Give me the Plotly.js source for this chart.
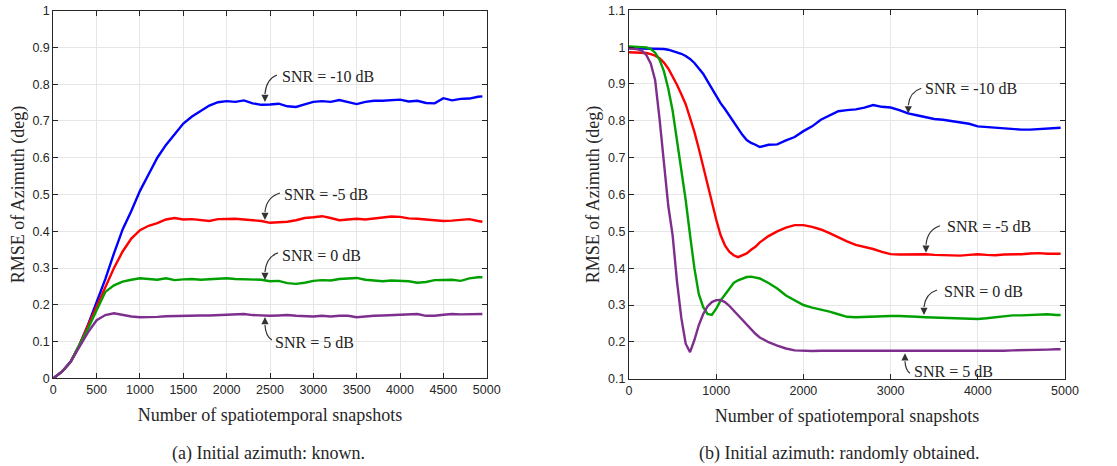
<!DOCTYPE html>
<html>
<head>
<meta charset="utf-8">
<script src="https://cdn.plot.ly/plotly-3.0.1.min.js"></script>
<style>html,body{margin:0;padding:0;background:#fff;}#chart{width:1117px;height:466px;}</style>
</head>
<body>
<div id="chart"></div>
<script>
// ---------- DATA ----------
// (a) Initial azimuth: known
var snapshotsA = [0,100,200,300,400,500,600,700,800,900,1000,1100,1200,1300,1400,1500,1600,1700,1800,1900,2000,2100,2200,2300,2400,2500,2600,2700,2800,2900,3000,3100,3200,3300,3400,3500,3600,3700,3800,3900,4000,4100,4200,4300,4400,4500,4600,4700,4800,4900,4950];
var rmseA_m10 = [0,0.018,0.045,0.09,0.145,0.205,0.27,0.34,0.405,0.455,0.51,0.555,0.6,0.635,0.665,0.693,0.712,0.727,0.742,0.751,0.754,0.752,0.756,0.748,0.744,0.745,0.747,0.74,0.738,0.745,0.752,0.754,0.752,0.757,0.752,0.746,0.752,0.755,0.755,0.756,0.758,0.753,0.755,0.749,0.748,0.762,0.756,0.76,0.761,0.766,0.767];
var rmseA_m5 = [0,0.018,0.045,0.09,0.143,0.196,0.25,0.3,0.345,0.38,0.403,0.415,0.422,0.432,0.436,0.432,0.433,0.431,0.428,0.433,0.434,0.434,0.432,0.43,0.428,0.423,0.424,0.426,0.43,0.436,0.438,0.441,0.436,0.43,0.432,0.434,0.432,0.434,0.436,0.44,0.439,0.435,0.434,0.432,0.431,0.428,0.429,0.432,0.433,0.428,0.426];
var rmseA_0 = [0,0.018,0.045,0.088,0.135,0.185,0.235,0.253,0.263,0.268,0.272,0.27,0.268,0.272,0.267,0.269,0.27,0.268,0.27,0.27,0.272,0.27,0.27,0.269,0.268,0.264,0.265,0.259,0.257,0.26,0.265,0.267,0.266,0.27,0.272,0.273,0.268,0.266,0.264,0.266,0.265,0.264,0.26,0.262,0.267,0.268,0.268,0.265,0.272,0.275,0.275];
var rmseA_5 = [0,0.018,0.045,0.085,0.125,0.158,0.172,0.177,0.172,0.168,0.166,0.166,0.167,0.169,0.17,0.171,0.17,0.171,0.171,0.172,0.171,0.172,0.175,0.172,0.17,0.17,0.171,0.172,0.17,0.169,0.168,0.17,0.168,0.17,0.17,0.166,0.169,0.17,0.171,0.172,0.171,0.173,0.175,0.17,0.17,0.173,0.175,0.174,0.174,0.176,0.175];

// (b) Initial azimuth: randomly obtained
var snapshotsB = [0,50,100,150,200,250,300,350,400,450,500,550,600,650,700,750,800,850,900,950,1000,1050,1100,1150,1200,1250,1300,1350,1400,1450,1500,1600,1700,1800,1900,2000,2100,2200,2300,2400,2500,2600,2700,2800,2900,3000,3100,3200,3300,3400,3500,3600,3700,3800,3900,4000,4100,4200,4300,4400,4500,4600,4700,4800,4900,4950];
var rmseB_m10 = [0.997,0.997,0.997,0.997,0.997,0.997,0.996,0.996,0.995,0.993,0.99,0.987,0.982,0.976,0.968,0.957,0.944,0.928,0.908,0.887,0.866,0.848,0.832,0.815,0.797,0.778,0.762,0.748,0.74,0.735,0.729,0.735,0.736,0.747,0.756,0.772,0.785,0.803,0.815,0.826,0.829,0.831,0.836,0.843,0.838,0.836,0.829,0.82,0.815,0.81,0.805,0.803,0.8,0.796,0.792,0.785,0.783,0.78,0.778,0.778,0.776,0.776,0.777,0.778,0.78,0.781];
var rmseB_m5 = [0.986,0.986,0.986,0.985,0.984,0.981,0.977,0.97,0.958,0.942,0.922,0.898,0.872,0.845,0.808,0.77,0.725,0.675,0.625,0.578,0.532,0.49,0.462,0.445,0.435,0.43,0.434,0.44,0.45,0.458,0.47,0.487,0.5,0.51,0.517,0.517,0.512,0.505,0.495,0.483,0.473,0.463,0.458,0.452,0.444,0.438,0.437,0.438,0.437,0.438,0.436,0.435,0.435,0.434,0.436,0.438,0.436,0.435,0.437,0.437,0.438,0.44,0.441,0.439,0.439,0.439];
var rmseB_0 = [1.002,1.002,1.001,1.0,0.999,0.995,0.985,0.966,0.935,0.888,0.828,0.75,0.67,0.585,0.49,0.4,0.33,0.295,0.276,0.273,0.29,0.312,0.328,0.345,0.36,0.367,0.372,0.376,0.377,0.375,0.372,0.36,0.345,0.326,0.312,0.3,0.293,0.288,0.282,0.275,0.268,0.267,0.268,0.27,0.27,0.27,0.27,0.27,0.268,0.267,0.266,0.265,0.265,0.264,0.263,0.262,0.264,0.267,0.27,0.272,0.272,0.273,0.276,0.275,0.273,0.273];
var rmseB_5 = [0.997,0.996,0.994,0.99,0.978,0.955,0.91,0.806,0.69,0.57,0.49,0.365,0.265,0.195,0.172,0.205,0.245,0.275,0.296,0.308,0.313,0.314,0.308,0.298,0.285,0.272,0.258,0.245,0.233,0.222,0.212,0.199,0.19,0.182,0.177,0.175,0.175,0.176,0.176,0.175,0.175,0.174,0.175,0.175,0.175,0.175,0.176,0.176,0.175,0.174,0.174,0.174,0.175,0.176,0.175,0.176,0.175,0.176,0.176,0.177,0.177,0.177,0.178,0.179,0.18,0.18];

var snrLabels = ['SNR = -10 dB','SNR = -5 dB','SNR = 0 dB','SNR = 5 dB'];
var captions = ['(a) Initial azimuth: known.','(b) Initial azimuth: randomly obtained.'];
var xTitle = 'Number of spatiotemporal snapshots';
var yTitle = 'RMSE of Azimuth (deg)';

// ---------- STYLE ----------
var colors = ['#0000ff','#ff0000','#00a000','#7e2f8e'];
var serif = '"Liberation Serif", "Times New Roman", "DejaVu Serif", serif';
var sans = '"Liberation Sans", Arial, sans-serif';
var axisColor = '#262626';

function mk(x, y, c, xa, ya, name) {
  return {x: x, y: y, type: 'scatter', mode: 'lines', name: name, xaxis: xa, yaxis: ya,
    line: {color: c, width: 2.4}, showlegend: false, hoverinfo: 'x+y'};
}
var traces = [
  mk(snapshotsA, rmseA_m10, colors[0], 'x', 'y', snrLabels[0]),
  mk(snapshotsA, rmseA_m5, colors[1], 'x', 'y', snrLabels[1]),
  mk(snapshotsA, rmseA_0, colors[2], 'x', 'y', snrLabels[2]),
  mk(snapshotsA, rmseA_5, colors[3], 'x', 'y', snrLabels[3]),
  mk(snapshotsB, rmseB_m10, colors[0], 'x2', 'y2', snrLabels[0]),
  mk(snapshotsB, rmseB_m5, colors[1], 'x2', 'y2', snrLabels[1]),
  mk(snapshotsB, rmseB_0, colors[2], 'x2', 'y2', snrLabels[2]),
  mk(snapshotsB, rmseB_5, colors[3], 'x2', 'y2', snrLabels[3])
];

function axis(extra) {
  var base = {
    showline: true, linecolor: axisColor, linewidth: 1, mirror: 'allticks',
    ticks: 'inside', ticklen: 5, tickcolor: axisColor, tickwidth: 1,
    showgrid: true, gridcolor: '#e6e6e6', gridwidth: 1, zeroline: false,
    tickfont: {family: sans, size: 12.5, color: axisColor},
    automargin: false, fixedrange: true
  };
  for (var k in extra) base[k] = extra[k];
  return base;
}
var titleFont = {family: serif, size: 18, color: axisColor};

var W = 1117, H = 466;
var layout = {
  width: W, height: H,
  margin: {l: 0, r: 0, t: 0, b: 0},
  paper_bgcolor: '#ffffff', plot_bgcolor: '#ffffff',
  showlegend: false,
  font: {family: serif, color: axisColor},
  xaxis: axis({domain: [53.3/W, 486.7/W], range: [0, 5000], tick0: 0, dtick: 500, anchor: 'y',
    title: {text: xTitle, font: titleFont, standoff: 12}}),
  yaxis: axis({domain: [1-378.3/H, 1-10.7/H], range: [0, 1], tick0: 0, dtick: 0.1, anchor: 'x',
    title: {text: yTitle, font: titleFont, standoff: 3}}),
  xaxis2: axis({domain: [629/W, 1065/W], range: [0, 5000], tick0: 0, dtick: 1000, anchor: 'y2',
    title: {text: xTitle, font: titleFont, standoff: 12}}),
  yaxis2: axis({domain: [1-378.7/H, 1-10.3/H], range: [0.1, 1.1], tick0: 0.1, dtick: 0.1, anchor: 'x2',
    title: {text: yTitle, font: titleFont, standoff: 3}}),
  annotations: [],
  shapes: []
};

// captions
layout.annotations.push({xref: 'paper', yref: 'paper', x: 268/W, y: 1-453/H, xanchor: 'center', yanchor: 'middle',
  text: captions[0], showarrow: false, font: titleFont});
layout.annotations.push({xref: 'paper', yref: 'paper', x: 839/W, y: 1-453/H, xanchor: 'center', yanchor: 'middle',
  text: captions[1], showarrow: false, font: titleFont});

// labels with curved arrows: [xref, yref, tipX, tipY, startDx, startDy, textX, textY, label index]
var callouts = [
  ['x','y', 2442, 0.7516, 12, -27, 2616, 0.820, 0],
  ['x','y', 2442, 0.4307, 15, -27, 2638, 0.4987, 1],
  ['x','y', 2442, 0.2676, 13, -27, 2616, 0.3335, 2],
  ['x','y', 2442, 0.1668, 7, 23, 2535, 0.0968, 3],
  ['x2','y2', 3203, 0.8204, 13, -25, 3372, 0.8864, 0],
  ['x2','y2', 3406, 0.442, 14, -27, 3624, 0.5145, 1],
  ['x2','y2', 3383, 0.2729, 13, -25, 3589, 0.3362, 2],
  ['x2','y2', 3165, 0.169, 5, 20, 3245, 0.119, 3]
];
callouts.forEach(function (c) {
  var dx = c[4], dy = c[5];
  var dir = dy < 0 ? -1 : 1;
  var endY = dir * 8;
  var ctrlX = dx * 0.1, ctrlY = dy * 0.85;
  var path = 'M ' + dx + ',' + (-dy) + ' Q ' + ctrlX + ',' + (-ctrlY) + ' 0,' + (-endY);
  layout.shapes.push({type: 'path', xref: c[0], yref: c[1], xsizemode: 'pixel', ysizemode: 'pixel',
    xanchor: c[2], yanchor: c[3], path: path, line: {color: '#333333', width: 1.2}});
  layout.annotations.push({xref: c[0], yref: c[1], x: c[2], y: c[3], ax: 0, ay: endY, axref: 'pixel', ayref: 'pixel',
    text: '', showarrow: true, arrowhead: 2, arrowsize: 1.1, arrowwidth: 1.3, arrowcolor: '#333333', standoff: 0});
  layout.annotations.push({xref: c[0], yref: c[1], x: c[6], y: c[7], xanchor: 'left', yanchor: 'middle',
    text: snrLabels[c[8]], showarrow: false, font: {family: serif, size: 16, color: '#222222'}});
});

Plotly.newPlot('chart', traces, layout, {displayModeBar: false, staticPlot: true});
</script>
</body>
</html>
